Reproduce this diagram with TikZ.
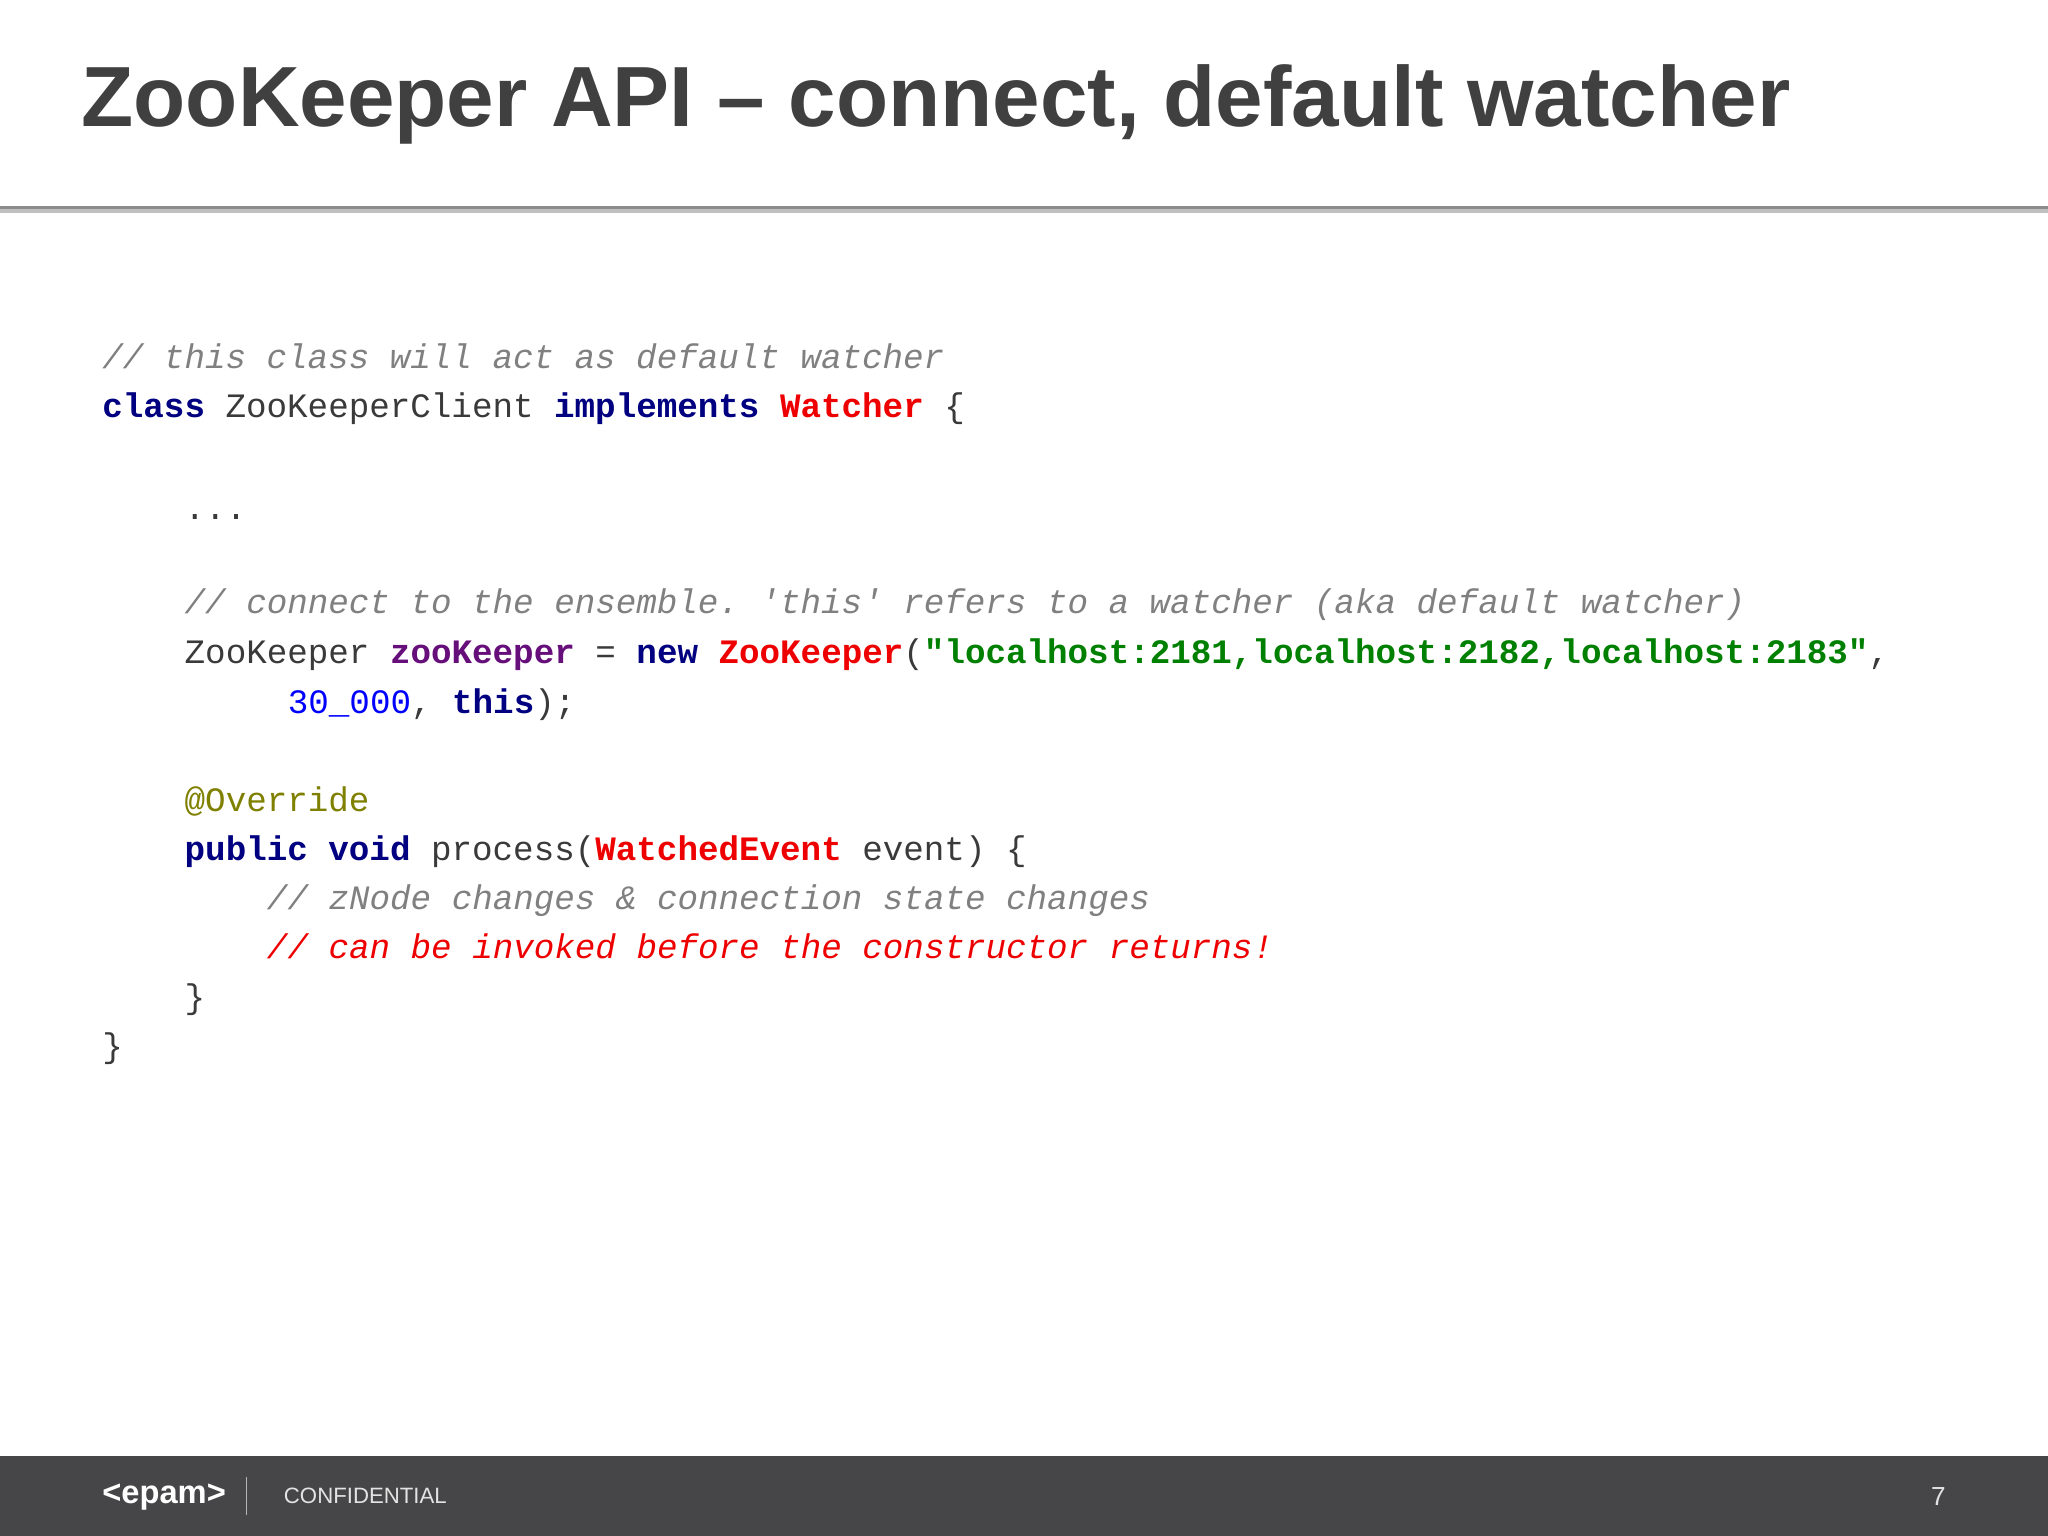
\documentclass[tikz,border=0pt]{standalone}
\usepackage{fontspec}
\setmainfont{Liberation Sans}
\setmonofont{Liberation Mono}
\definecolor{kw}{HTML}{000080}
\definecolor{ty}{HTML}{EE0000}
\definecolor{pu}{HTML}{660E7A}
\definecolor{gr}{HTML}{008000}
\definecolor{nu}{HTML}{0000FF}
\definecolor{an}{HTML}{808000}
\definecolor{cm}{HTML}{808080}
\definecolor{tx}{HTML}{3A3A3A}
\definecolor{foot}{HTML}{464648}
\begin{document}
\begin{tikzpicture}[x=0.5pt,y=-0.5pt,
  code/.style={anchor=base west,inner sep=0pt,font=\fontsize{13.1}{15}\ttfamily,text=tx}]
\useasboundingbox (0,0) rectangle (1568,1176);
\fill[white] (0,0) rectangle (1568,1176);
\fill[black!25] (0,159) rectangle (1568,163);
\fill[black!45] (0,158) rectangle (1568,160);
\node[anchor=west,inner sep=0pt,font=\fontsize{32.7}{40}\selectfont\bfseries,text=black!75] (title) at (62,80) {ZooKeeper API – connect, default watcher};
% code
\node[code] (l1) at (78,282) {\itshape\color{cm}// this class will act as default watcher};
\node[code] (l2) at (78,320) {\textcolor{kw}{\bfseries class} ZooKeeperClient \textcolor{kw}{\bfseries implements} \textcolor{ty}{\bfseries Watcher} \{};
\node[code] (l3) at (141,398) {...};
\node[code] (l4) at (141,470) {\itshape\color{cm}// connect to the ensemble. 'this' refers to a watcher (aka default watcher)};
\node[code] (l5) at (141,508) {ZooKeeper \textcolor{pu}{\bfseries zooKeeper} = \textcolor{kw}{\bfseries new} \textcolor{ty}{\bfseries ZooKeeper}(\textcolor{gr}{\bfseries "localhost:2181,localhost:2182,localhost:2183"},};
\node[code] (l6) at (220,546) {\textcolor{nu}{30\_000}, \textcolor{kw}{\bfseries this});};
\node[code] (l7) at (141,621) {\color{an}@Override};
\node[code] (l8) at (141,659) {\textcolor{kw}{\bfseries public void} process(\textcolor{ty}{\bfseries WatchedEvent} event) \{};
\node[code] (l9) at (204,696) {\itshape\color{cm}// zNode changes \& connection state changes};
\node[code] (l10) at (204,734) {\itshape\color{ty}// can be invoked before the constructor returns!};
\node[code] (l11) at (141,772) {\}};
\node[code] (l12) at (78,810) {\}};
% footer
\fill[foot] (0,1115) rectangle (1568,1176);
\draw[white!60!foot] (189,1131) -- (189,1160);
\node[anchor=west,inner sep=0pt,text=white,font=\fontsize{12.5}{15}\selectfont\bfseries] (logo) at (78,1146) {<epam>};
\node[anchor=west,inner sep=0pt,text=white!85!foot,font=\fontsize{8.5}{10}\selectfont] (conf) at (217,1145) {CONFIDENTIAL};
\node[anchor=east,inner sep=0pt,text=white!85!foot,font=\fontsize{10}{12}\selectfont] (pg) at (1490,1146) {7};
\end{tikzpicture}
\end{document}
